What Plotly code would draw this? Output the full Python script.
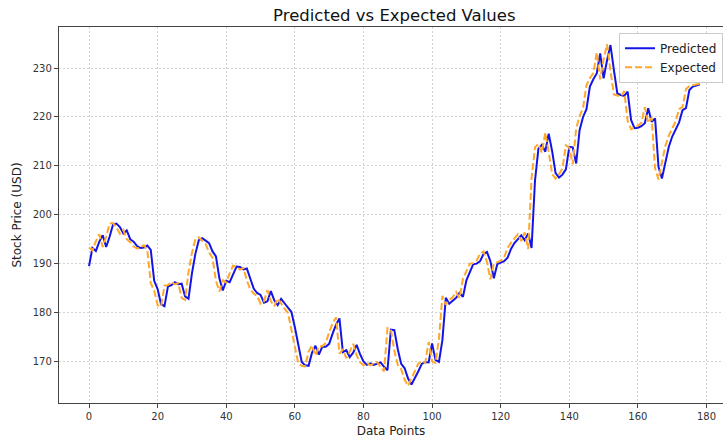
import plotly.graph_objects as go

# Model output vs. actual closing prices, one value per data point
predicted = [
    189.5, 193.2, 192.6, 194.5, 195.8, 193.4, 195.5, 198.0, 198.2, 197.5,
    196.2, 196.8, 195.0, 194.5, 193.6, 193.2, 193.3, 193.7, 192.8, 186.5,
    184.8, 181.7, 181.3, 185.3, 185.6, 186.2, 185.8, 185.9, 183.3, 182.8,
    188.0, 192.0, 194.8, 195.2, 194.7, 194.2, 192.5, 191.5, 187.0, 184.5,
    186.5, 186.2, 187.8, 189.4, 189.3, 188.8, 189.0, 186.9, 184.9, 184.0,
    183.6, 182.0, 182.3, 184.4, 182.5, 181.5, 182.8, 181.9, 181.0, 180.1,
    177.0, 173.3, 169.9, 169.2, 169.1, 171.8, 173.2, 171.4, 173.0, 173.0,
    173.6, 175.7, 177.5, 178.8, 171.9, 172.3, 170.9, 171.8, 173.4, 171.5,
    170.0, 169.3, 169.6, 169.3, 169.5, 169.8, 168.9, 168.2, 176.5, 176.4,
    172.5, 169.5, 168.6, 166.5, 165.3, 166.5, 168.0, 169.5, 169.9, 169.8,
    173.7, 170.3, 169.9, 174.3, 183.0, 181.8, 182.5, 183.0, 184.0, 183.2,
    186.6, 188.4, 189.9, 190.0, 190.5, 192.0, 192.4, 190.5, 187.0, 189.9,
    190.2, 190.5, 191.2, 193.0, 194.2, 195.0, 195.8, 194.8, 196.2, 193.2,
    207.0, 213.5, 214.3, 212.9, 216.6, 213.0, 208.5, 207.6, 208.2, 209.3,
    213.9, 213.8, 210.5, 217.3, 220.0, 221.6, 226.2, 227.7, 228.9, 233.0,
    227.9, 231.6, 234.7, 229.6, 224.8, 224.5, 224.3, 225.2, 219.4, 217.7,
    217.8, 218.1, 218.7, 221.8, 219.0, 219.7, 209.8, 207.4, 210.5, 213.9,
    216.0, 217.3, 218.9, 221.4, 221.8, 225.5, 226.2, 226.4, 226.7,
]

expected = [
    193.3, 192.7, 194.6, 196.0, 193.4, 195.5, 198.2, 198.3, 197.4, 196.1,
    196.9, 195.0, 194.4, 193.5, 193.1, 193.3, 193.8, 192.7, 186.0, 184.5,
    181.5, 181.2, 185.5, 185.6, 186.3, 185.8, 186.0, 183.0, 182.6, 188.3,
    192.2, 195.0, 195.4, 194.6, 194.0, 192.3, 191.2, 186.5, 184.3, 186.6,
    186.2, 188.0, 189.6, 189.3, 188.8, 189.1, 186.6, 184.7, 183.9, 183.4,
    181.8, 182.3, 184.6, 182.3, 181.3, 182.9, 181.8, 180.8, 179.9, 176.5,
    172.8, 169.6, 169.1, 169.0, 172.0, 173.3, 171.2, 173.1, 173.1, 173.8,
    176.0, 177.8, 179.0, 171.6, 172.4, 170.7, 172.0, 173.6, 171.3, 169.8,
    169.2, 169.7, 169.2, 169.6, 169.9, 168.8, 168.0, 176.8, 176.5, 172.2,
    169.3, 168.4, 166.3, 165.0, 166.6, 168.2, 169.6, 170.0, 169.7, 174.0,
    170.0, 169.7, 174.6, 183.4, 181.6, 182.6, 183.1, 184.2, 183.0, 186.9,
    188.6, 190.0, 190.1, 190.6, 192.1, 192.5, 190.3, 186.8, 190.0, 190.3,
    190.6, 191.3, 193.2, 194.3, 195.1, 196.0, 194.6, 196.4, 193.0, 207.5,
    213.8, 214.5, 212.7, 216.8, 212.8, 208.3, 207.4, 208.3, 209.5, 214.2,
    213.7, 210.3, 217.6, 220.2, 221.8, 226.5, 227.9, 229.0, 233.2, 227.7,
    231.8, 234.9, 229.4, 224.6, 224.4, 224.2, 225.3, 219.2, 217.5, 217.9,
    218.2, 218.8, 222.0, 218.8, 219.8, 209.5, 207.2, 210.7, 214.1, 216.2,
    217.5, 219.1, 221.6, 222.0, 225.7, 226.3, 226.5, 226.7, 226.8,
]

points = list(range(len(predicted)))
x_ticks = [0, 20, 40, 60, 80, 100, 120, 140, 160, 180]
y_ticks = [170, 180, 190, 200, 210, 220, 230]

FONT = "DejaVu Sans"

fig = go.Figure()
fig.add_trace(go.Scatter(
    x=points, y=predicted, mode="lines", name="Predicted",
    line=dict(color="#1414e6", width=2),
))
fig.add_trace(go.Scatter(
    x=points, y=expected, mode="lines", name="Expected",
    line=dict(color="#ffa82a", width=2, dash="7px,3px"),
))

axis_common = dict(
    showgrid=True, gridcolor="#d2d2d2", gridwidth=1, griddash="2px,2px",
    zeroline=False, showline=True, linecolor="#444444", linewidth=1.3,
    ticks="outside", ticklen=4, tickcolor="#444444", tickwidth=1,
    tickfont=dict(family=FONT, size=10, color="#333333"),
)

fig.update_layout(
    width=723, height=438,
    margin=dict(l=59, r=0, t=27, b=35),
    paper_bgcolor="white", plot_bgcolor="white",
    font=dict(family=FONT, color="#222222"),
    title=dict(
        text="Predicted vs Expected Values",
        x=0.505, xref="paper", xanchor="center",
        y=0.966, yref="container", yanchor="middle",
        font=dict(family=FONT, size=16.5, color="#111111"),
    ),
    xaxis=dict(
        range=[-8.75, 184.8], tickvals=x_ticks, mirror=True,
        title=dict(text="Data Points", standoff=6,
                   font=dict(family=FONT, size=12, color="#222222")),
        **axis_common,
    ),
    yaxis=dict(
        range=[161.5, 238.4], tickvals=y_ticks, mirror=False,
        title=dict(text="Stock Price (USD)", standoff=8,
                   font=dict(family=FONT, size=12, color="#222222")),
        **axis_common,
    ),
    legend=dict(
        x=1.0, xanchor="right", y=0.985, yanchor="top",
        bgcolor="rgba(255,255,255,0.85)", bordercolor="#cccccc", borderwidth=1,
        font=dict(family=FONT, size=12, color="#222222"),
        tracegroupgap=2,
    ),
    showlegend=True,
)

fig.write_html("out.html")
